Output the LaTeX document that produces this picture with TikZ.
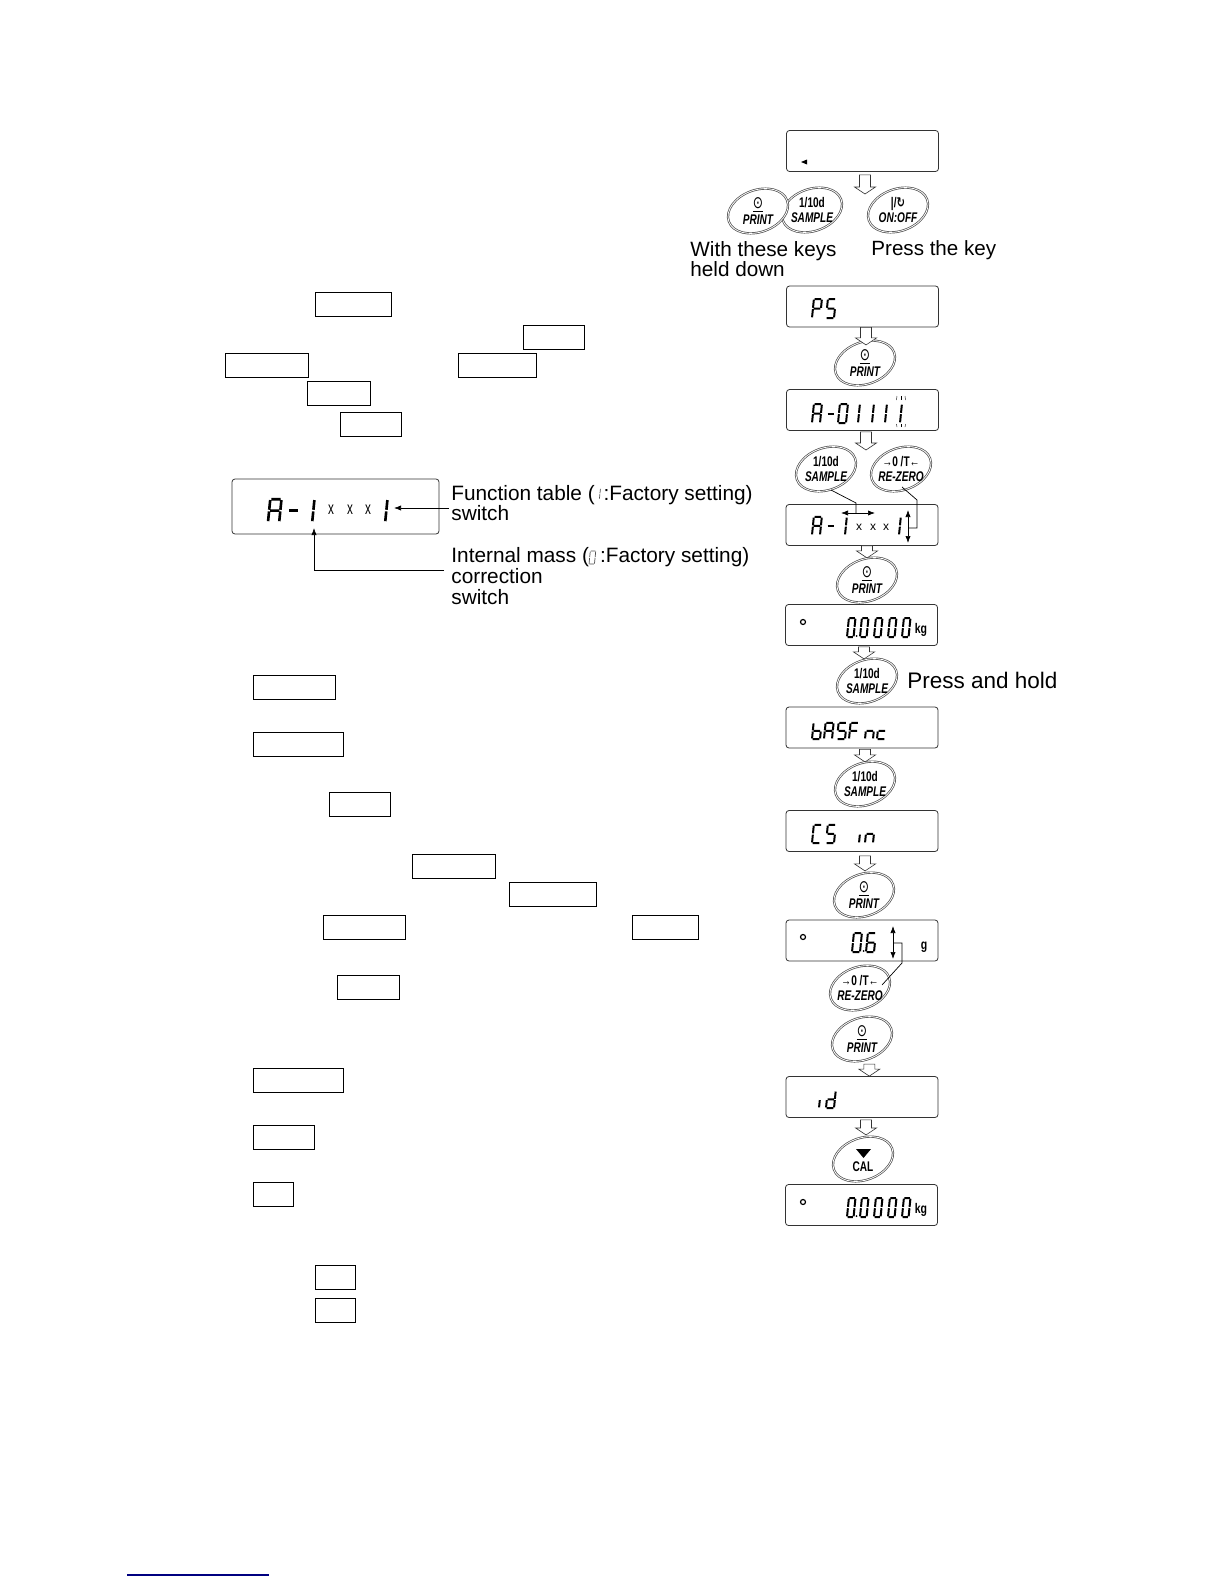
\documentclass[tikz,border=0pt]{standalone}
\usepackage{fontspec}
\setmainfont{Liberation Sans}
\newfontfamily\symfont{DejaVu Sans}
\usetikzlibrary{arrows.meta,calc,shapes.geometric}

\newcommand{\lcdtext}[3][]{\foreach \px/\cd in {#3}
  \draw[segline, shift={(\px,#2)}, xslant=.1, #1, glyph\cd];}
\newcommand{\keycap}[4]{\node[keyring] (#1) at (#2) {};
  \node[keylabel] (#1text) at (#2) {#3\\#4};}
\newcommand{\ringsym}{{\fontsize{8.5}{7.8}\symfont\mdseries\underline{⊙}}}

\tikzset{
  sega/.style={insert path={(.7,-19) -- (7.3,-19)}},
  segb/.style={insert path={(8,-18.3) -- (8,-10.2)}},
  segc/.style={insert path={(8,-8.8) -- (8,-.7)}},
  segd/.style={insert path={(.7,0) -- (7.3,0)}},
  sege/.style={insert path={(0,-8.8) -- (0,-.7)}},
  segf/.style={insert path={(0,-18.3) -- (0,-10.2)}},
  segg/.style={insert path={(.7,-9.5) -- (7.3,-9.5)}},
  glyphA/.style={sega,segb,segc,sege,segf,segg},
  glyphP/.style={sega,segb,sege,segf,segg},
  glyphS/.style={sega,segc,segd,segf,segg},
  glyphF/.style={sega,sege,segf,segg},
  glyphC/.style={sega,segd,sege,segf},
  glyphO/.style={sega,segb,segc,segd,sege,segf},
  glyphI/.style={segb,segc},
  glyphD/.style={segg},
  glyphb/.style={segc,segd,sege,segf,segg},
  glyphn/.style={segc,sege,segg},
  glyphc/.style={segd,sege,segg},
  glyphi/.style={sege},
  glyphd/.style={segb,segc,segd,sege,segg},
  glyphs/.style={sega,segc,segd,sege,segf,segg}
}

\begin{document}
\begin{tikzpicture}[
  x=0.5pt, y=-0.5pt,
  >={Latex[length=3.5pt,width=2.6pt]},
  every node/.style={font=\fontsize{10.4}{10.3}\selectfont, inner sep=0pt},
  lcdbox/.style={draw=black!80, line width=.4pt, rounded corners=1.5pt,
                 minimum width=76pt, minimum height=20.5pt},
  blank/.style={draw, line width=.5pt, minimum height=12pt},
  segline/.style={line width=1pt},
  keyring/.style={ellipse, draw=black!70, line width=.35pt, double=white,
                  double distance=.4pt, fill=white, rotate=20,
                  minimum width=31pt, minimum height=21pt},
  keylabel/.style={font=\fontsize{7}{7.8}\selectfont\bfseries, xscale=.72, align=center},
  unit/.style={font=\fontsize{7}{7}\selectfont\bfseries, xscale=.75},
  note/.style={align=left, anchor=west},
  lead/.style={line width=.35pt},
  blockto/.style={draw=black!80, fill=white, line width=.3pt, to path={
    let \p1=(\tikztostart), \p2=(\tikztotarget) in
    (\x1-2.75pt,\y1) -- (\x1-2.75pt,\y2+3.5pt) -- (\x1-5.25pt,\y2+3.5pt) -- (\x1,\y2)
    -- (\x1+5.25pt,\y2+3.5pt) -- (\x1+2.75pt,\y2+3.5pt) -- (\x1+2.75pt,\y1) -- cycle}}
]
  \useasboundingbox (0,0) rectangle (1224,1584);

  \foreach \cx/\cy/\w [count=\i] in {353/304.5/76, 553.5/337/61, 266.5/365/83, 497/365/78,
      338.5/393/63, 370.5/424/61, 294/687/82, 298/744.5/90, 359.5/804/61, 453.5/866/83,
      552.5/894/87, 364/927/82, 665/927/66, 368/987/62, 298/1080/90, 284/1137/61,
      273/1194/40, 335/1277/40, 335/1310/40}
    \node[blank, minimum width=\w*.5pt] (blank\i) at (\cx,\cy) {};

  \node[lcdbox, minimum width=103.5pt, minimum height=27.5pt] (lcdmain) at (335.5,506.5) {};
  \lcdtext[xscale=1.4, yscale=1.2, line width=1.3pt]{522}{268/A,287/D,301/I,374/I}
  \foreach \px in {331,350,368}
    \node[font=\fontsize{9}{9}\selectfont, xscale=.65] (swx\px) at (\px,510) {x};

  \node[note] (fntext) at (451,503) {Function table (\hspace{4.4pt}:Factory setting)\\switch};
  \node[note] (masstext) at (451,576) {Internal mass (\hspace{5.6pt}:Factory setting)\\correction\\switch};
  \lcdtext[scale=.55, line width=.35pt, draw=black!70]{499}{595/I}
  \lcdtext[scale=.68, line width=.35pt, draw=black!70]{564}{589/O}

  \coordinate (fntip) at (394,508);
  \coordinate (masstip) at (314,528);
  \draw[->, lead] ([shift={(-1pt,-2.5pt)}]fntext.west) -- (fntip);
  \draw[->, lead] ([shift={(-3.5pt,3pt)}]masstext.west) -| (masstip);

  \node[lcdbox] (lcdoff) at (862.5,151) {};
  \node[lcdbox] (lcdps) at (862.5,306.5) {};
  \node[lcdbox] (lcdaz) at (862.5,410) {};
  \node[lcdbox] (lcdaset) at (862,525) {};
  \node[lcdbox] (lcdzero) at (861.5,625) {};
  \node[lcdbox] (lcdbas) at (862,727.5) {};
  \node[lcdbox] (lcdcs) at (862,831) {};
  \node[lcdbox] (lcdval) at (862,940.5) {};
  \node[lcdbox] (lcdid) at (862,1097) {};
  \node[lcdbox] (lcdend) at (861.5,1205) {};

  \fill (801,162) -- (807,159.5) -- (807,164.5) -- cycle;
  \lcdtext{318}{812/P,826/S}
  \lcdtext{423}{812/A,826/D,838/O,850/I,864/I,877/I,892/I}
  \foreach \dx/\ex in {897/896.5,901/901,905/905.5} {
    \draw[line width=.2pt] (\dx,396) -- (\ex,400);
    \draw[line width=.2pt] (\dx,427) -- (\ex,424);
  }
  \lcdtext[yscale=.95]{535}{812/A,826/D,837/I,891/I}
  \foreach \px in {859,873,886}
    \node[font=\fontsize{6}{6}\selectfont] (setx\px) at (\px,527) {x};
  \lcdtext[xscale=.82]{637}{847/O,860/O,874/O,888/O,902/O}
  \fill (856.5,636) circle (1);
  \draw[line width=.6pt] (803,622) circle (2.5);
  \node[unit] (kgtop) at (921,630) {kg};
  \lcdtext[yscale=.85]{739}{812/b,824/A,837/S,849/F,865/n,877/c}
  \lcdtext[yscale=.95]{843}{812/C,826/S,859/i,865/n}
  \lcdtext{952}{852/O,866/s}
  \fill (863.5,951) circle (1);
  \draw[line width=.6pt] (803,937) circle (2.5);
  \node[unit] (gunit) at (924,947) {g};
  \lcdtext[yscale=.9]{1108}{819/i,826/d}
  \lcdtext[xscale=.82]{1217}{847/O,860/O,874/O,888/O,902/O}
  \fill (856.5,1216) circle (1);
  \draw[line width=.6pt] (803,1202) circle (2.5);
  \node[unit] (kgend) at (921,1210) {kg};

  \keycap{sampleoff}{812,210}{1/10d}{\itshape SAMPLE}
  \keycap{printoff}{758,211}{\ringsym}{\itshape PRINT}
  \keycap{onoff}{898,210}{|/{\symfont ↻}}{\itshape ON:OFF}
  \keycap{printps}{865,363}{\ringsym}{\itshape PRINT}
  \keycap{sampleaz}{826,469}{1/10d}{\itshape SAMPLE}
  \keycap{zeroaz}{901,469}{→0 /T←}{\itshape RE-ZERO}
  \keycap{printset}{867,580}{\ringsym}{\itshape PRINT}
  \keycap{samplehold}{867,681}{1/10d}{\itshape SAMPLE}
  \keycap{samplebas}{865,784}{1/10d}{\itshape SAMPLE}
  \keycap{printcs}{864,895}{\ringsym}{\itshape PRINT}
  \keycap{zeroval}{860,988}{→0 /T←}{\itshape RE-ZERO}
  \keycap{printval}{862,1039}{\ringsym}{\itshape PRINT}
  \keycap{calid}{863,1159}{\phantom{1}}{CAL}
  \fill (856,1149) -- (871,1149) -- (863.5,1158) -- cycle;

  \node[note, font=\fontsize{10.35}{10.3}\selectfont] (heldtext) at (690,259) {With these keys\\held down};
  \node[note, font=\fontsize{10.3}{10.3}\selectfont] (presstext) at (871,250) {Press the key};
  \node[note, font=\fontsize{11.25}{12}\selectfont] (holdtext) at (907,680) {Press and hold};

  \coordinate (tipoff) at (865,194);
  \coordinate (tipaz) at (866,450);
  \draw[blockto] ([shift={(1.25pt,-1.5pt)}]lcdoff.south) to (tipoff);
  \draw[blockto] ([xshift=1.75pt]lcdps.south) to ([yshift=-1pt]printps.north);
  \draw[blockto] ([shift={(1.75pt,-.5pt)}]lcdaz.south) to (tipaz);
  \draw[blockto] ([xshift=2.5pt]lcdaset.south) to ([yshift=1pt]printset.north);
  \draw[blockto] ([shift={(1.25pt,-.5pt)}]lcdzero.south) to ([yshift=1pt]samplehold.north);
  \draw[blockto] ([shift={(1.5pt,-.5pt)}]lcdbas.south) to ([yshift=1pt]samplebas.north);
  \draw[blockto] ([shift={(1.5pt,-2pt)}]lcdcs.south) to ([yshift=2pt]printcs.north);
  \draw[blockto] ([yshift=-2.5pt]printval.south) to ([xshift=.5pt]lcdid.north);
  \draw[blockto] ([shift={(2pt,-1pt)}]lcdid.south) to ([yshift=2pt]calid.north);

  \coordinate (swsample) at (856,513);
  \coordinate (swzero) at (908,528);
  \coordinate (swval) at (893,943);
  \draw[<->, lead] (841,513) -- (875,513);
  \draw[<->, lead] (908,510) -- (908,543);
  \draw[<->, lead] (893,926) -- (893,959);
  \draw[lead] ([shift={(2.5pt,-10.5pt)}]sampleaz.center) -- (856,503) -- (swsample);
  \draw[lead] ([shift={(.5pt,-9pt)}]zeroaz.center) -- (917,500) |- (swzero);
  \draw[lead] (swval) -- (902,943) -- (902,963) -- ([shift={(11pt,1.5pt)}]zeroval.center);

  \draw[draw={rgb,255:red,0;green,0;blue,128}, line width=.6pt] (127,1575) -- (269,1575);
\end{tikzpicture}
\end{document}
